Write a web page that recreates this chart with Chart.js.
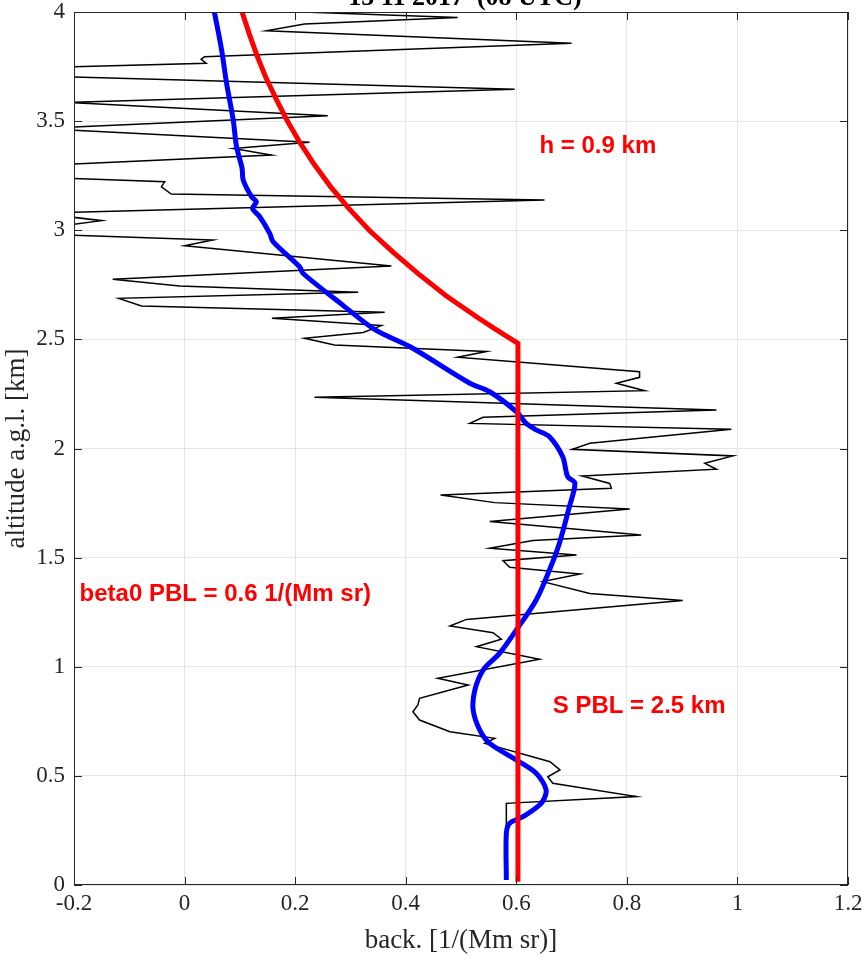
<!DOCTYPE html>
<html>
<head>
<meta charset="utf-8">
<title>15 11 2017 (08 UTC)</title>
<script src="https://cdn.jsdelivr.net/npm/chart.js@4.4.1/dist/chart.umd.min.js"></script>
<style>
  html, body { margin: 0; padding: 0; background: #fff; }
  canvas { display: block; }
</style>
</head>
<body>
<canvas id="perfil" width="865" height="959"></canvas>
<script>
// perfil medido (preto), de cima para baixo
const backX = [
  0.226, 0.494, 0.217, 0.148, 0.700, 0.036, 0.030, 0.039, -0.21, -0.21,
  0.597, -0.21, 0.259, -0.21, -0.21, 0.226, 0.088, 0.157, -0.21, -0.21,
  -0.036, -0.042, -0.024, 0.651, -0.21, -0.21, -0.150, -0.21, -0.21, 0.051,
  0.000, 0.374, -0.130, -0.009, 0.314, -0.119, -0.078, 0.362, 0.158, 0.356,
  0.323, 0.217, 0.271, 0.546, 0.494, 0.823, 0.823, 0.781, 0.832, 0.235,
  0.962, 0.540, 0.516, 0.989, 0.733, 0.701, 0.992, 0.941, 0.962, 0.719,
  0.769, 0.772, 0.463, 0.561, 0.805, 0.552, 0.826, 0.630, 0.552, 0.709,
  0.576, 0.588, 0.715, 0.648, 0.733, 0.901, 0.510, 0.480, 0.558, 0.573,
  0.528, 0.642, 0.458, 0.513, 0.425, 0.422, 0.413, 0.425, 0.480, 0.561,
  0.543, 0.661, 0.679, 0.657, 0.666, 0.817, 0.582, 0.582
];
const backY = [
  3.999, 3.975, 3.945, 3.914, 3.857, 3.795, 3.783, 3.765, 3.749, 3.703,
  3.646, 3.586, 3.525, 3.472, 3.459, 3.403, 3.375, 3.345, 3.302, 3.238,
  3.222, 3.199, 3.166, 3.139, 3.082, 3.062, 3.044, 3.024, 2.978, 2.955,
  2.929, 2.836, 2.775, 2.745, 2.716, 2.688, 2.653, 2.624, 2.597, 2.563,
  2.532, 2.505, 2.474, 2.444, 2.418, 2.352, 2.326, 2.299, 2.265, 2.235,
  2.176, 2.143, 2.115, 2.088, 2.024, 1.996, 1.966, 1.932, 1.905, 1.874,
  1.840, 1.818, 1.787, 1.752, 1.723, 1.665, 1.604, 1.578, 1.543, 1.512,
  1.486, 1.456, 1.425, 1.390, 1.336, 1.303, 1.217, 1.187, 1.156, 1.126,
  1.092, 1.034, 0.947, 0.916, 0.855, 0.825, 0.794, 0.756, 0.702, 0.672,
  0.649, 0.565, 0.527, 0.496, 0.466, 0.405, 0.374, 0.023
];

// perfil suavizado (azul), de baixo para cima
const fitX = [
  0.582, 0.582, 0.588, 0.612, 0.645, 0.654, 0.636, 0.600, 0.552, 0.534,
  0.522, 0.525, 0.540, 0.570, 0.600, 0.636, 0.660, 0.678, 0.696, 0.706,
  0.693, 0.684, 0.660, 0.636, 0.618, 0.600, 0.552, 0.516, 0.408, 0.345,
  0.286, 0.214, 0.208, 0.160, 0.154, 0.136, 0.123, 0.130, 0.121, 0.106,
  0.104, 0.094, 0.088, 0.076, 0.067, 0.054
];
const fitY = [
  0.023, 0.237, 0.283, 0.313, 0.374, 0.435, 0.512, 0.573, 0.649, 0.710,
  0.802, 0.893, 0.985, 1.062, 1.168, 1.306, 1.443, 1.566, 1.733, 1.841,
  1.871, 1.962, 2.054, 2.085, 2.115, 2.169, 2.260, 2.299, 2.466, 2.543,
  2.657, 2.803, 2.833, 2.948, 2.986, 3.062, 3.100, 3.131, 3.154, 3.230,
  3.284, 3.383, 3.505, 3.673, 3.826, 3.999
];

// modelo da camada limite (vermelho)
const modelX = [0.603, 0.603, 0.560, 0.530, 0.473, 0.423, 0.377, 0.334, 0.297, 0.264, 0.235, 0.209, 0.186, 0.166, 0.147, 0.131, 0.117, 0.104];
const modelY = [0.015, 2.482, 2.550, 2.600, 2.700, 2.800, 2.900, 3.000, 3.100, 3.200, 3.300, 3.400, 3.500, 3.600, 3.700, 3.800, 3.900, 4.000];

const xTicks = [-0.2, 0, 0.2, 0.4, 0.6, 0.8, 1, 1.2];
const yTicks = [0, 0.5, 1, 1.5, 2, 2.5, 3, 3.5, 4];

const titulo = "15 11 2017  (08 UTC)";
const notas = ["h = 0.9 km", "beta0 PBL = 0.6 1/(Mm sr)", "S PBL = 2.5 km"];

function pares(xs, ys) {
    return xs.map((x, i) => ({ x: x, y: ys[i] }));
}

const cinza = "#262626";
const serifa = "'Liberation Serif', 'Times New Roman', serif";
const fonteEixo = { family: serifa, size: 23, lineHeight: 1 };
const fonteRotulo = { family: serifa, size: 27, lineHeight: 1 };

// moldura, marcas internas, titulo e textos em vermelho
const moldura = {
    id: "moldura",
    afterDatasetsDraw(chart) {
        const { ctx, chartArea: a, scales: { x, y } } = chart;
        ctx.save();
        ctx.strokeStyle = cinza;
        ctx.lineWidth = 1;
        ctx.strokeRect(a.left + 0.5, a.top + 0.5, a.right - a.left - 1, a.bottom - a.top - 1);
        ctx.beginPath();
        xTicks.forEach((v) => {
            const px = Math.round(x.getPixelForValue(v)) + 0.5;
            ctx.moveTo(px, a.bottom); ctx.lineTo(px, a.bottom - 8);
            ctx.moveTo(px, a.top); ctx.lineTo(px, a.top + 8);
        });
        yTicks.forEach((v) => {
            const py = Math.round(y.getPixelForValue(v)) + 0.5;
            ctx.moveTo(a.left, py); ctx.lineTo(a.left + 8, py);
            ctx.moveTo(a.right, py); ctx.lineTo(a.right - 8, py);
        });
        ctx.stroke();

        ctx.fillStyle = "#ff0000";
        ctx.font = "bold 24px 'Liberation Sans', Arial, sans-serif";
        ctx.textBaseline = "alphabetic";
        ctx.textAlign = "left";
        ctx.fillText(notas[0], x.getPixelForValue(0.642), y.getPixelForValue(3.354));
        ctx.fillText(notas[1], x.getPixelForValue(-0.19), y.getPixelForValue(1.301));
        ctx.fillText(notas[2], x.getPixelForValue(0.666), y.getPixelForValue(0.788));

        ctx.fillStyle = "#000";
        ctx.font = "bold 26px " + serifa;
        ctx.textAlign = "center";
        ctx.fillText(titulo, 465, 5);
        ctx.restore();
    },
};

const ctx = document.getElementById("perfil");
new Chart(ctx, {
    type: "scatter",
    data: {
        datasets: [
            {
                label: "modelo",
                data: pares(modelX, modelY),
                showLine: true,
                borderColor: "#ff0000",
                borderWidth: 5,
                pointRadius: 0,
                tension: 0,
            },
            {
                label: "suavizado",
                data: pares(fitX, fitY),
                showLine: true,
                borderColor: "#0000ff",
                borderWidth: 5,
                pointRadius: 0,
                tension: 0.3,
            },
            {
                label: "medido",
                data: pares(backX, backY),
                showLine: true,
                borderColor: "#000000",
                borderWidth: 1.5,
                pointRadius: 0,
                tension: 0,
                clip: 0,
            },
        ],
    },
    options: {
        responsive: false,
        animation: false,
        devicePixelRatio: 1,
        layout: { padding: { top: 12, right: 17, left: 0, bottom: 0 } },
        plugins: {
            legend: { display: false },
            tooltip: { enabled: false },
        },
        scales: {
            x: {
                type: "linear",
                min: -0.2,
                max: 1.2,
                afterBuildTicks: (s) => { s.ticks = xTicks.map((v) => ({ value: v })); },
                afterFit: (s) => {
                    s.height = 74;
                    s.paddingLeft = 0;
                    s.paddingRight = 0;
                },
                ticks: {
                    font: fonteEixo,
                    color: cinza,
                    padding: 7,
                    maxRotation: 0,
                    callback: (v) => String(+v.toFixed(1)),
                },
                grid: { color: "#e6e6e6", drawTicks: false },
                border: { display: false },
                title: {
                    display: true,
                    text: "back. [1/(Mm sr)]",
                    font: fonteRotulo,
                    color: cinza,
                    padding: { top: 0, bottom: 5 },
                },
            },
            y: {
                type: "linear",
                min: 0,
                max: 4,
                afterBuildTicks: (s) => { s.ticks = yTicks.map((v) => ({ value: v })); },
                afterFit: (s) => {
                    s.width = 74;
                    s.paddingTop = 0;
                    s.paddingBottom = 0;
                },
                ticks: {
                    font: fonteEixo,
                    color: cinza,
                    padding: 9,
                    callback: (v) => String(+v.toFixed(1)),
                },
                grid: { color: "#e6e6e6", drawTicks: false },
                border: { display: false },
                title: {
                    display: true,
                    text: "altitude a.g.l. [km]",
                    font: fonteRotulo,
                    color: cinza,
                    padding: { top: 3, bottom: 0 },
                },
            },
        },
    },
    plugins: [moldura],
});
</script>
</body>
</html>
